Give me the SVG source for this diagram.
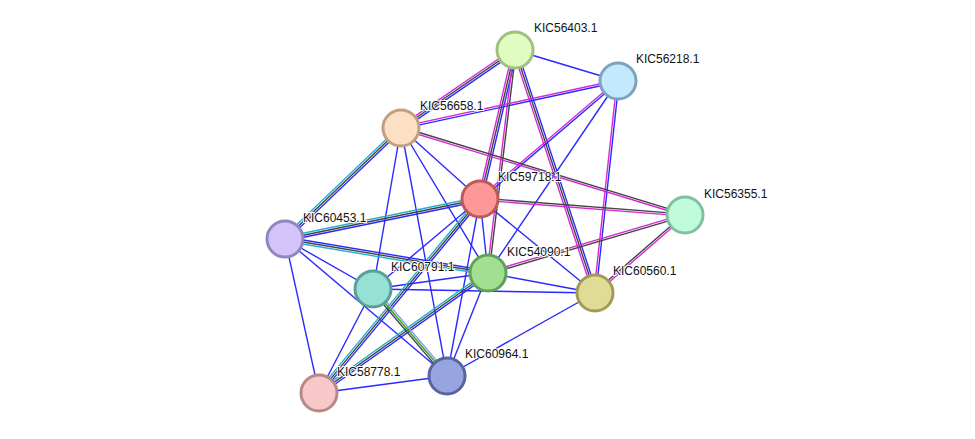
<svg xmlns="http://www.w3.org/2000/svg" width="975" height="439" viewBox="0 0 975 439">
<style>
line{stroke-width:1.4;fill:none}
.b{stroke:#2a2aff}.k{stroke:#444}.m{stroke:#d42ad4}.c{stroke:#22b0d0}.g{stroke:#22b022}.lb{stroke:#9a9aee}
circle{stroke-width:3}
text{font-family:"Liberation Sans",Arial,sans-serif;font-size:12px;fill:#111;paint-order:stroke;stroke:#fff;stroke-width:2px}
</style>
<rect width="975" height="439" fill="#fff"/>
<g id="edges">
<line class="b" x1="515" y1="50" x2="618" y2="81"/>
<line class="b" x1="401" y1="128" x2="480" y2="199"/>
<line class="b" x1="401" y1="128" x2="373" y2="289"/>
<line class="b" x1="401" y1="128" x2="488" y2="273"/>
<line class="b" x1="401" y1="128" x2="447" y2="376"/>
<line class="b" x1="618" y1="81" x2="488" y2="273"/>
<line class="b" x1="480" y1="199" x2="488" y2="273"/>
<line class="b" x1="480" y1="199" x2="373" y2="289"/>
<line class="b" x1="480" y1="199" x2="447" y2="376"/>
<line class="b" x1="480" y1="199" x2="595" y2="293"/>
<line class="b" x1="285" y1="239" x2="373" y2="289"/>
<line class="b" x1="285" y1="239" x2="447" y2="376"/>
<line class="b" x1="285" y1="239" x2="319" y2="393"/>
<line class="b" x1="488" y1="273" x2="373" y2="289"/>
<line class="b" x1="488" y1="273" x2="595" y2="293"/>
<line class="b" x1="488" y1="273" x2="447" y2="376"/>
<line class="b" x1="373" y1="289" x2="595" y2="293"/>
<line class="b" x1="373" y1="289" x2="319" y2="393"/>
<line class="b" x1="595" y1="293" x2="447" y2="376"/>
<line class="b" x1="447" y1="376" x2="319" y2="393"/>
<g transform="translate(515 50) rotate(145.6)"><line class="b" x2="138" y1="-2" y2="-2"/><line class="k" x2="138"/><line class="m" x2="138" y1="2" y2="2"/></g>
<g transform="translate(515 50) rotate(103.2)"><line class="b" x2="153" y1="-2" y2="-2"/><line class="k" x2="153"/><line class="m" x2="153" y1="2" y2="2"/></g>
<g transform="translate(515 50) rotate(96.9)"><line class="k" x2="225" y1="-1" y2="-1"/><line class="m" x2="225" y1="1" y2="1"/></g>
<g transform="translate(515 50) rotate(71.8)"><line class="b" x2="256" y1="-2" y2="-2"/><line class="k" x2="256"/><line class="m" x2="256" y1="2" y2="2"/></g>
<g transform="translate(618 81) rotate(167.8)"><line class="b" x2="222" y1="-1" y2="-1"/><line class="m" x2="222" y1="1" y2="1"/></g>
<g transform="translate(618 81) rotate(139.5)"><line class="b" x2="182" y1="-1" y2="-1"/><line class="m" x2="182" y1="1" y2="1"/></g>
<g transform="translate(618 81) rotate(96.2)"><line class="b" x2="213" y1="-1" y2="-1"/><line class="m" x2="213" y1="1" y2="1"/></g>
<g transform="translate(401 128) rotate(17)"><line class="k" x2="297" y1="-1" y2="-1"/><line class="m" x2="297" y1="1" y2="1"/></g>
<g transform="translate(401 128) rotate(136.3)"><line class="b" x2="160" y1="-2" y2="-2"/><line class="k" x2="160"/><line class="c" x2="160" y1="2" y2="2"/></g>
<g transform="translate(480 199) rotate(4.5)"><line class="k" x2="206" y1="-1" y2="-1"/><line class="m" x2="206" y1="1" y2="1"/></g>
<g transform="translate(480 199) rotate(168.4)"><line class="b" x2="199" y1="-2" y2="-2"/><line class="k" x2="199"/><line class="c" x2="199" y1="2" y2="2"/></g>
<g transform="translate(480 199) rotate(129.7)"><line class="b" x2="252" y1="-2" y2="-2"/><line class="k" x2="252"/><line class="c" x2="252" y1="2" y2="2"/></g>
<g transform="translate(285 239) rotate(9.5)"><line class="b" x2="206" y1="-2" y2="-2"/><line class="k" x2="206"/><line class="c" x2="206" y1="2" y2="2"/></g>
<g transform="translate(488 273) rotate(-16.4)"><line class="m" x2="205" y1="-1" y2="-1"/><line class="k" x2="205" y1="1" y2="1"/></g>
<g transform="translate(488 273) rotate(144.6)"><line class="b" x2="207" y1="-2" y2="-2"/><line class="k" x2="207"/><line class="c" x2="207" y1="2" y2="2"/></g>
<g transform="translate(373 289) rotate(49.6)"><line class="lb" x2="114" y1="-2" y2="-2"/><line class="g" x2="114"/><line class="k" x2="114" y1="2" y2="2"/></g>
<g transform="translate(595 293) rotate(-40.9)"><line class="k" x2="119" y1="-1" y2="-1"/><line class="m" x2="119" y1="1" y2="1"/></g>
</g>
<g id="n1"><circle cx="515" cy="50" r="18" fill="#e0fcc0" stroke="#a0c080"/><text x="534" y="32">KIC56403.1</text></g>
<g id="n2"><circle cx="618" cy="81" r="18" fill="#c4e8fc" stroke="#7aa4c0"/><text x="636" y="63">KIC56218.1</text></g>
<g id="n3"><circle cx="401" cy="128" r="18" fill="#fddfc4" stroke="#c0a080"/><text x="420" y="110">KIC56658.1</text></g>
<g id="n4"><circle cx="480" cy="199" r="18" fill="#fc9898" stroke="#c05858"/><text x="498" y="181">KIC59718.1</text></g>
<g id="n5"><circle cx="685" cy="215" r="18" fill="#c0fcdc" stroke="#80c0a0"/><text x="704" y="198">KIC56355.1</text></g>
<g id="n6"><circle cx="285" cy="239" r="18" fill="#d4c4fc" stroke="#9484c0"/><text x="303" y="222">KIC60453.1</text></g>
<g id="n7"><circle cx="488" cy="273" r="18" fill="#a0e090" stroke="#60a058"/><text x="507" y="256">KIC54090.1</text></g>
<g id="n8"><circle cx="373" cy="289" r="18" fill="#98e0d4" stroke="#58a098"/><text x="391" y="271">KIC60791.1</text></g>
<g id="n9"><circle cx="595" cy="293" r="18" fill="#e0dc98" stroke="#a09c58"/><text x="613" y="275">KIC60560.1</text></g>
<g id="n10"><circle cx="447" cy="376" r="18" fill="#98a4e0" stroke="#5864a0"/><text x="465" y="358">KIC60964.1</text></g>
<g id="n11"><circle cx="319" cy="393" r="18" fill="#f8c8c8" stroke="#b88888"/><text x="337" y="376">KIC58778.1</text></g>
</svg>
